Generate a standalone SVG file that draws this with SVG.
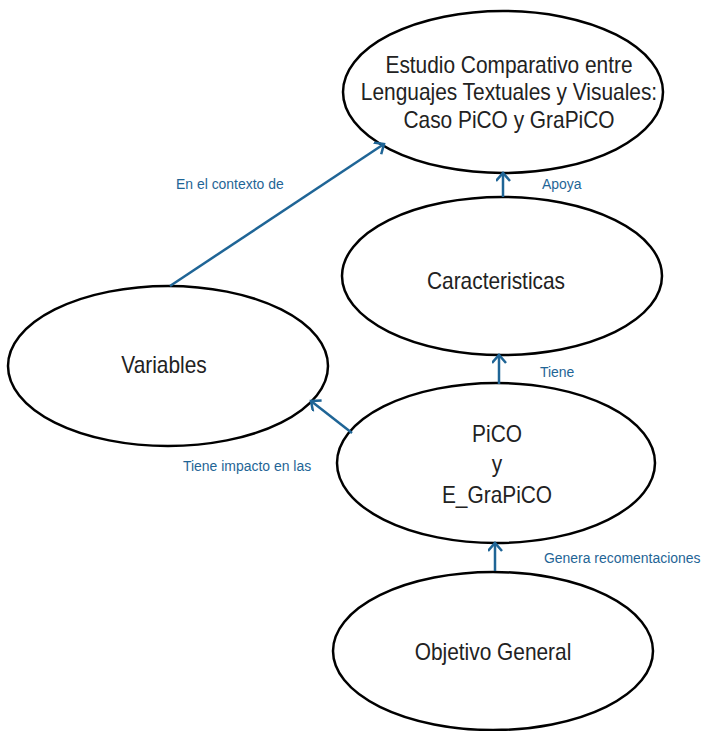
<svg xmlns="http://www.w3.org/2000/svg" width="702" height="731" viewBox="0 0 702 731">
<style>
.node ellipse{fill:#fff;stroke:#000;stroke-width:2.5}
.node text{font-family:"Liberation Sans",Arial,sans-serif;font-size:24px;fill:#222;text-anchor:middle}
.conn line{stroke:#1F6596;stroke-width:2.5}
.lbl{font-family:"Liberation Sans",Arial,sans-serif;font-size:15.5px;fill:#1F6596}
</style>
<defs>
<marker id="arr" markerUnits="userSpaceOnUse" markerWidth="14" markerHeight="16" refX="10" refY="7" orient="auto" viewBox="0 0 14 16">
<path d="M2,0 L10,7 L2,14" fill="none" stroke="#1F6596" stroke-width="2.5"/>
</marker>
</defs>
<rect width="702" height="731" fill="#fff"/>
<g id="n1" class="node">
<ellipse cx="503" cy="92" rx="160" ry="81"/>
<text transform="translate(509,73) scale(0.87,1)">Estudio Comparativo entre</text>
<text transform="translate(509,100) scale(0.87,1)">Lenguajes Textuales y Visuales:</text>
<text transform="translate(509,128) scale(0.87,1)">Caso PiCO y GraPiCO</text>
</g>
<g id="n2" class="node">
<ellipse cx="502" cy="276" rx="160" ry="79"/>
<text transform="translate(496,289) scale(0.87,1)">Caracteristicas</text>
</g>
<g id="n3" class="node">
<ellipse cx="168" cy="366" rx="160" ry="80"/>
<text transform="translate(164,373) scale(0.87,1)">Variables</text>
</g>
<g id="n4" class="node">
<ellipse cx="496" cy="463" rx="159" ry="80"/>
<text transform="translate(497,442) scale(0.87,1)">PiCO</text>
<text transform="translate(497,472) scale(0.87,1)">y</text>
<text transform="translate(497,503) scale(0.87,1)">E_GraPiCO</text>
</g>
<g id="n5" class="node">
<ellipse cx="493" cy="651" rx="160" ry="79"/>
<text transform="translate(493,660) scale(0.87,1)">Objetivo General</text>
</g>
<g id="connectors" class="conn">
<line x1="503" y1="197" x2="503" y2="173" marker-end="url(#arr)"/>
<line x1="499" y1="384" x2="499" y2="355" marker-end="url(#arr)"/>
<line x1="495" y1="571" x2="495" y2="543" marker-end="url(#arr)"/>
<line x1="352" y1="433" x2="311" y2="401" marker-end="url(#arr)"/>
<line x1="170" y1="286" x2="384" y2="144" marker-end="url(#arr)"/>
<text class="lbl" transform="translate(542,189) scale(0.9,1)">Apoya</text>
<text class="lbl" transform="translate(176,189) scale(0.9,1)">En el contexto de</text>
<text class="lbl" transform="translate(540,377) scale(0.9,1)">Tiene</text>
<text class="lbl" transform="translate(183,471) scale(0.9,1)">Tiene impacto en las</text>
<text class="lbl" transform="translate(544,563) scale(0.9,1)">Genera recomentaciones</text>
</g>
</svg>
